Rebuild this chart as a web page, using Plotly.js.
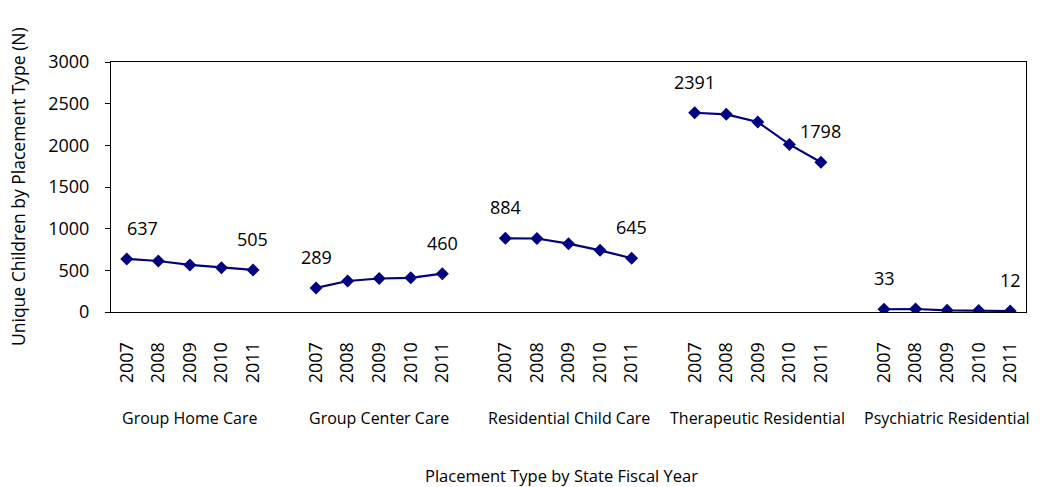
<!DOCTYPE html>
<html>
<head>
<meta charset="utf-8">
<script src="https://cdn.plot.ly/plotly-3.0.1.min.js"></script>
<style>html,body{margin:0;padding:0;background:#fff;}#chart{width:1052px;height:487px;}</style>
</head>
<body>
<div id="chart"></div>
<script>
const groups = ["Group Home Care", "Group Center Care", "Residential Child Care", "Therapeutic Residential", "Psychiatric Residential"];
const years = ["2007", "2008", "2009", "2010", "2011"];
const groupHomeCare = [637, 612, 565, 532, 505];
const groupCenterCare = [289, 372, 402, 410, 460];
const residentialChildCare = [884, 882, 820, 740, 645];
const therapeuticResidential = [2391, 2372, 2280, 2011, 1798];
const psychiatricResidential = [33, 36, 20, 18, 12];
const series = [groupHomeCare, groupCenterCare, residentialChildCare, therapeuticResidential, psychiatricResidential];
const xTitle = "Placement Type by State Fiscal Year";
const yTitle = "Unique Children by Placement Type (N)";

const FONT = "Open Sans, Noto Sans, sans-serif";
const NAVY = "#000080";
const slotsPerGroup = years.length + 1;

const traces = [];
const annotations = [];
const tickvals = [];
const ticktext = [];

series.forEach((vals, g) => {
  const xs = years.map((y, i) => g * slotsPerGroup + i);
  xs.forEach((x, i) => { tickvals.push(x); ticktext.push(years[i]); });
  traces.push({
    type: "scatter",
    mode: "lines+markers",
    x: xs,
    y: vals,
    showlegend: false,
    hoverinfo: "x+y",
    line: {color: NAVY, width: 2.2},
    marker: {symbol: "diamond", size: 10, color: NAVY}
  });
  [0, vals.length - 1].forEach((i, k) => {
    annotations.push({
      x: xs[i], y: vals[i], xref: "x", yref: "y",
      text: String(vals[i]), showarrow: false,
      xanchor: "center", yanchor: "middle",
      yshift: 31, xshift: (g === 0 && k === 0) ? 16 : 0,
      font: {family: FONT, size: 18, color: "#000"}
    });
  });
  annotations.push({
    x: g * slotsPerGroup + (years.length - 1) / 2, y: 0,
    xref: "x", yref: "paper", yshift: -106,
    text: groups[g], showarrow: false,
    xanchor: "center", yanchor: "middle",
    font: {family: FONT, size: 16, color: "#000"}
  });
});

annotations.push({
  x: 0.492, y: 0, xref: "paper", yref: "paper", yshift: -163,
  text: xTitle, showarrow: false, xanchor: "center", yanchor: "middle",
  font: {family: FONT, size: 16.5, color: "#000"}
});
annotations.push({
  x: 0, y: 0.5, xref: "paper", yref: "paper", xshift: -93,
  text: yTitle, showarrow: false, textangle: -90,
  xanchor: "center", yanchor: "middle",
  font: {family: FONT, size: 17.5, color: "#000"}
});

const layout = {
  width: 1052, height: 487,
  margin: {l: 111, r: 26, t: 62, b: 175},
  paper_bgcolor: "#fff", plot_bgcolor: "#fff",
  font: {family: FONT, color: "#000"},
  xaxis: {
    range: [-0.5, groups.length * slotsPerGroup - 1 - 0.5],
    tickmode: "array", tickvals: tickvals, ticktext: ticktext,
    tickangle: -90, ticks: "", ticklabelstandoff: 22,
    tickfont: {family: FONT, size: 18, color: "#000"},
    showgrid: false, zeroline: false,
    showline: true, mirror: true, linecolor: "#000", linewidth: 1,
    automargin: false
  },
  yaxis: {
    range: [0, 3000], dtick: 500, tick0: 0,
    ticks: "outside", ticklen: 5, tickcolor: "#000", tickwidth: 1,
    ticklabelstandoff: 12,
    tickfont: {family: FONT, size: 18, color: "#000"},
    showgrid: false, zeroline: false,
    showline: true, mirror: true, linecolor: "#000", linewidth: 1,
    automargin: false
  },
  annotations: annotations
};

Plotly.newPlot("chart", traces, layout, {staticPlot: true, displayModeBar: false});
</script>
</body>
</html>
